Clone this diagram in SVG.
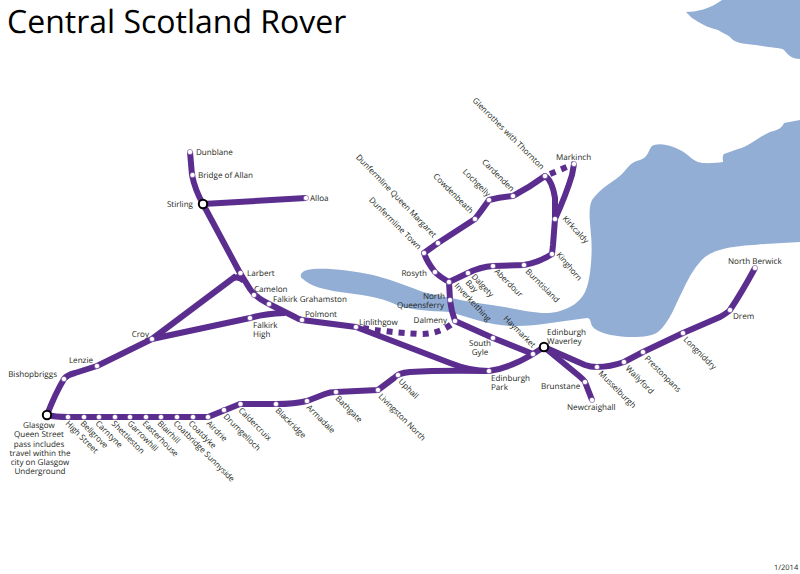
<svg xmlns="http://www.w3.org/2000/svg" width="800" height="574" viewBox="0 0 800 574">
<style>
text{font-family:"Open Sans","Noto Sans",sans-serif;font-size:8.1px;fill:#231f20;text-rendering:geometricPrecision}
.t{font-size:32px;fill:#000}
.e{text-anchor:end}
.m{text-anchor:middle}
.water{fill:#92aed4}
.l{fill:none;stroke:#5b2d8e;stroke-width:6;stroke-linejoin:round}
.d{stroke-dasharray:6 6}
.s{fill:#fff;stroke:#5b2d8e;stroke-width:.5}
.x{fill:#fff;stroke:#000;stroke-width:2}
</style>
<rect width="800" height="574" fill="#fff"/>
<g id="water">
<path class="water" d="M686 12C696 12 710 9 722 0H800V59C792 59 788 55 784 50C780 47 770 48 762 46C750 44 738 44 733 40C728 34 722 33 718 30C708 28 698 22 692 18Z"/>
<path class="water" d="M800 120L784 123C782 128 778 130 770 132C760 136 750 146 738 149L724 154C722 156 723 160 723 162C716 163 704 164 698 162C692 160 688 154 680 150C670 145 662 143 654 145C648 147 650 157 640 160C630 162 628 168 622 174C614 182 602 186 592 200C588 208 590 222 591 235C593 255 590 285 584 294C578 303 572 307 560 311C540 317 520 308 477 303C455 299 440 296 423 292C400 283 385 278 373 275C350 270 320 267 307 270C300 272 299 277 303 279C310 286 325 290 340 292C360 295 378 296 397 305C410 310 430 311 450 312C470 318 490 325 510 326C535 327 560 321 587 318C591 318 590 322 592 326C597 333 612 336 627 337C640 337 650 337 658 332C670 322 675 305 683 290C690 275 696 265 705 257C720 246 745 246 765 244L800 242Z"/>
</g>
<g id="connectors">
<path class="l" d="M190 152L192 175Q195 190 203 204L240 273L250 289Q255 297 269 304L295 317Q298 319 302 320L356 327L450 363Q470 371 489 371"/>
<path class="l" d="M203 204L306 198"/>
<path class="l" d="M47 415Q55 394 64 379Q67 375 75 373L97 366L152 339L236 276M232 279Q238 275 244 281"/>
<path class="l" d="M152 339L250 318Q262 314 285 313"/>
<path class="l" d="M47 415Q55 417 68 417H208L240 404H276Q295 404 307 401L325 394Q330 392 336 392L378 390L394 378Q398 373 410 372Q440 370 489 371Q510 368 533 354L544 347"/>
<path class="l" d="M533 354L493 338L455 321Q451 310 450 300L449 282Q440 277 435 272Q427 262 424 253L438 243L475 219Q482 210 489 200Q500 197 513 196Q530 187 545 176Q552 180 555 198V219"/>
<path class="l" d="M574 164L572 175Q566 195 555 219L553 245L552 254Q540 262 524 265L493 266Q480 267 468 273L449 282"/>
<path class="l" d="M544 347L585 365Q590 367 597 367Q610 367 624 362L643 352L683 333L720 317Q727 313 730 310Q742 292 755 268"/>
<path class="l" d="M544 347L578 375Q584 380 585 382L592 400"/>
<path class="l d" d="M363 328Q385 332 420 334Q440 334 453 323"/>
<path class="l d" d="M550 174L574 164"/>
</g>
<text class="t" x="7" y="33">Central Scotland Rover</text>
<g id="n-dunblane"><circle class="s" cx="190" cy="152" r="2.6"/><text x="196" y="155">Dunblane</text></g>
<g id="n-bridge-of-allan"><circle class="s" cx="192.500" cy="175" r="2.6"/><text x="198" y="178">Bridge of Allan</text></g>
<g id="n-stirling"><circle class="x" cx="203" cy="204" r="4.200"/><text class="e" x="193" y="207">Stirling</text></g>
<g id="n-alloa"><circle class="s" cx="306" cy="198" r="2.6"/><text x="310" y="201">Alloa</text></g>
<g id="n-larbert"><circle class="s" cx="240.500" cy="273" r="2.6"/><text x="247" y="276">Larbert</text></g>
<g id="n-camelon"><circle class="s" cx="254" cy="295" r="2.6"/><text x="254" y="292">Camelon</text></g>
<g id="n-falkirk-grahamston"><circle class="s" cx="269" cy="304" r="2.6"/><text x="273" y="302">Falkirk Grahamston</text></g>
<g id="n-polmont"><circle class="s" cx="302" cy="320" r="2.6"/><text x="305" y="317">Polmont</text></g>
<g id="n-falkirk-high"><circle class="s" cx="250" cy="318" r="2.6"/><text x="253" y="328">Falkirk</text><text x="253" y="337">High</text></g>
<g id="n-croy"><circle class="s" cx="152" cy="339" r="2.6"/><text class="e" x="149" y="337">Croy</text></g>
<g id="n-lenzie"><circle class="s" cx="97" cy="366" r="2.6"/><text class="e" x="93" y="363">Lenzie</text></g>
<g id="n-bishopbriggs"><circle class="s" cx="64" cy="379" r="2.6"/><text class="e" x="57" y="377">Bishopbriggs</text></g>
<g id="n-glasgow"><circle class="x" cx="47" cy="415" r="4.200"/><text class="m" x="39" y="428">Glasgow</text><text class="m" x="39" y="437">Queen Street</text><text class="m" x="39" y="447">pass includes</text><text class="m" x="40" y="456">travel within the</text><text class="m" x="40" y="465">city on Glasgow</text><text class="m" x="40" y="474">Underground</text></g>
<g id="n-high-street"><circle class="s" cx="68" cy="417" r="2.6"/><text transform="translate(65 424) rotate(45)">High Street</text></g>
<g id="n-bellgrove"><circle class="s" cx="84" cy="417" r="2.6"/><text transform="translate(80 424) rotate(45)">Bellgrove</text></g>
<g id="n-carntyne"><circle class="s" cx="99" cy="417" r="2.6"/><text transform="translate(95 424) rotate(45)">Carntyne</text></g>
<g id="n-shettleston"><circle class="s" cx="115" cy="417" r="2.6"/><text transform="translate(111 424) rotate(45)">Shettleston</text></g>
<g id="n-garrowhill"><circle class="s" cx="130" cy="417" r="2.6"/><text transform="translate(127 424) rotate(45)">Garrowhill</text></g>
<g id="n-easterhouse"><circle class="s" cx="146" cy="417" r="2.6"/><text transform="translate(142 424) rotate(45)">Easterhouse</text></g>
<g id="n-blairhill"><circle class="s" cx="161" cy="417" r="2.6"/><text transform="translate(157 424) rotate(45)">Blairhill</text></g>
<g id="n-coatbridge-sunnyside"><circle class="s" cx="177" cy="417" r="2.6"/><text transform="translate(173 424) rotate(45)">Coatbridge Sunnyside</text></g>
<g id="n-coatdyke"><circle class="s" cx="193" cy="417" r="2.6"/><text transform="translate(188 424) rotate(45)">Coatdyke</text></g>
<g id="n-airdrie"><circle class="s" cx="208" cy="417" r="2.6"/><text transform="translate(206 424) rotate(45)">Airdrie</text></g>
<g id="n-drumgelloch"><circle class="s" cx="224" cy="410" r="2.6"/><text transform="translate(223 417) rotate(45)">Drumgelloch</text></g>
<g id="n-caldercruix"><circle class="s" cx="240.500" cy="404" r="2.6"/><text transform="translate(238 411) rotate(45)">Caldercruix</text></g>
<g id="n-blackridge"><circle class="s" cx="276" cy="404" r="2.6"/><text transform="translate(275 411) rotate(45)">Blackridge</text></g>
<g id="n-armadale"><circle class="s" cx="307" cy="401" r="2.6"/><text transform="translate(306 408) rotate(45)">Armadale</text></g>
<g id="n-bathgate"><circle class="s" cx="336" cy="392" r="2.6"/><text transform="translate(335 399) rotate(45)">Bathgate</text></g>
<g id="n-livingston-north"><circle class="s" cx="378" cy="390" r="2.6"/><text transform="translate(378 397) rotate(45)">Livingston North</text></g>
<g id="n-uphall"><circle class="s" cx="398" cy="375" r="2.6"/><text transform="translate(398 382) rotate(45)">Uphall</text></g>
<g id="n-edinburgh-park"><circle class="s" cx="489" cy="371" r="2.6"/><text x="491" y="381">Edinburgh</text><text x="491" y="390">Park</text></g>
<g id="n-linlithgow"><circle class="s" cx="356" cy="327" r="2.6"/><text x="359" y="325">Linlithgow</text></g>
<g id="n-dalmeny"><circle class="s" cx="455" cy="321" r="2.6"/><text class="e" x="447" y="323">Dalmeny</text></g>
<g id="n-south-gyle"><circle class="s" cx="493" cy="338" r="2.6"/><text class="m" x="480" y="346">South</text><text class="m" x="480" y="355">Gyle</text></g>
<g id="n-haymarket"><circle class="s" cx="533" cy="354" r="2.6"/><text transform="translate(503 319) rotate(45)">Haymarket</text></g>
<g id="n-waverley"><circle class="x" cx="544" cy="347" r="4.200"/><text x="547" y="335">Edinburgh</text><text x="547" y="344">Waverley</text></g>
<g id="n-north-queensferry"><circle class="s" cx="450" cy="300" r="2.6"/><text class="e" x="445" y="299">North</text><text class="e" x="444" y="308">Queensferry</text></g>
<g id="n-inverkeithing"><circle class="s" cx="449" cy="282" r="2.6"/><text transform="translate(454 286) rotate(47)">Inverkeithing</text></g>
<g id="n-rosyth"><circle class="s" cx="435" cy="272" r="2.6"/><text class="e" x="427" y="276">Rosyth</text></g>
<g id="n-dunfermline-town"><circle class="s" cx="424" cy="253" r="2.6"/><text class="e" transform="translate(418 250) rotate(45)">Dunfermline Town</text></g>
<g id="n-dunfermline-queen-margaret"><circle class="s" cx="438" cy="243" r="2.6"/><text class="e" transform="translate(433 238) rotate(46)">Dunfermline Queen Margaret</text></g>
<g id="n-cowdenbeath"><circle class="s" cx="475" cy="219" r="2.6"/><text class="e" transform="translate(470 214) rotate(45)">Cowdenbeath</text></g>
<g id="n-lochgelly"><circle class="s" cx="489" cy="200" r="2.6"/><text class="e" transform="translate(487 197) rotate(45)">Lochgelly</text></g>
<g id="n-cardenden"><circle class="s" cx="513" cy="196" r="2.6"/><text class="e" transform="translate(511 192) rotate(45)">Cardenden</text></g>
<g id="n-glenrothes"><circle class="s" cx="545" cy="176" r="2.6"/><text class="e" transform="translate(541 170) rotate(45)">Glenrothes with Thornton</text></g>
<g id="n-markinch"><circle class="s" cx="574" cy="164" r="2.6"/><text x="556" y="160">Markinch</text></g>
<g id="n-kirkcaldy"><circle class="s" cx="555" cy="219" r="2.6"/><text transform="translate(562 219) rotate(47)">Kirkcaldy</text></g>
<g id="n-kinghorn"><circle class="s" cx="552" cy="254" r="2.6"/><text transform="translate(556 255) rotate(50)">Kinghorn</text></g>
<g id="n-burntisland"><circle class="s" cx="524" cy="265" r="2.6"/><text transform="translate(525 272) rotate(45)">Burntisland</text></g>
<g id="n-aberdour"><circle class="s" cx="493" cy="266" r="2.6"/><text transform="translate(494 272) rotate(45)">Aberdour</text></g>
<g id="n-dalgety-bay"><circle class="s" cx="468" cy="273" r="2.6"/><text transform="translate(471 277) rotate(47)">Dalgety</text><text transform="translate(465 283) rotate(47)">Bay</text></g>
<g id="n-musselburgh"><circle class="s" cx="597" cy="367" r="2.6"/><text transform="translate(598 374) rotate(45)">Musselburgh</text></g>
<g id="n-wallyford"><circle class="s" cx="624" cy="362" r="2.6"/><text transform="translate(625 369) rotate(45)">Wallyford</text></g>
<g id="n-prestonpans"><circle class="s" cx="643" cy="352" r="2.6"/><text transform="translate(644 359) rotate(45)">Prestonpans</text></g>
<g id="n-longniddry"><circle class="s" cx="683" cy="333" r="2.6"/><text transform="translate(683 340) rotate(45)">Longniddry</text></g>
<g id="n-drem"><circle class="s" cx="730" cy="310" r="2.6"/><text x="733" y="319">Drem</text></g>
<g id="n-north-berwick"><circle class="s" cx="755" cy="268" r="2.6"/><text x="728" y="264">North Berwick</text></g>
<g id="n-brunstane"><circle class="s" cx="585" cy="382" r="2.6"/><text x="541" y="389">Brunstane</text></g>
<g id="n-newcraighall"><circle class="s" cx="592" cy="400" r="2.6"/><text x="567" y="410">Newcraighall</text></g>
<text x="774" y="570" style="font-size:7.500px">1/2014</text>
</svg>
